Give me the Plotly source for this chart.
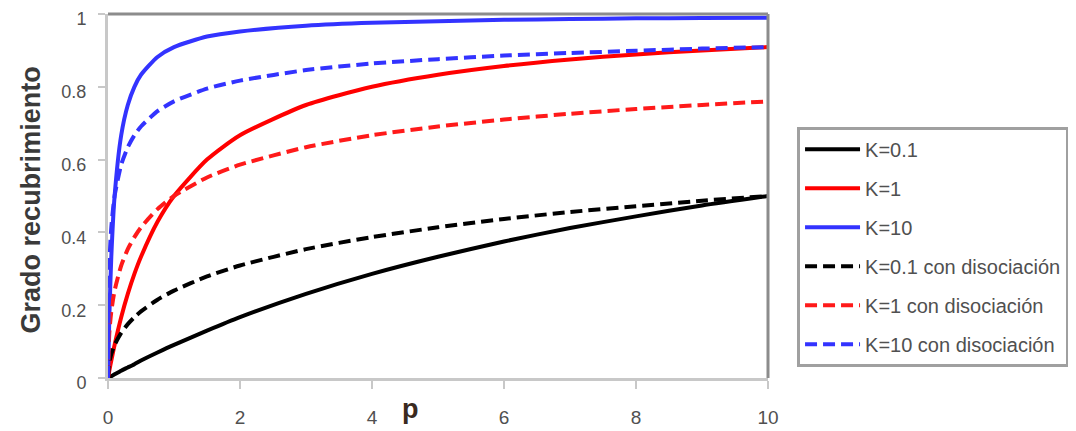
import plotly.graph_objects as go

# pressure values (x)
p = [0, 0.02, 0.05, 0.1, 0.2, 0.3, 0.4, 0.5, 0.75, 1, 1.5, 2, 3, 4, 5, 6, 7, 8, 9, 10]

# coverage values
k01 = [0, 0.002, 0.005, 0.010, 0.020, 0.029, 0.038, 0.048, 0.070, 0.091, 0.130, 0.167,
       0.231, 0.286, 0.333, 0.375, 0.412, 0.444, 0.474, 0.500]
k1 = [0, 0.020, 0.048, 0.091, 0.167, 0.231, 0.286, 0.333, 0.429, 0.500, 0.600, 0.667,
      0.750, 0.800, 0.833, 0.857, 0.875, 0.889, 0.900, 0.909]
k10 = [0, 0.167, 0.333, 0.500, 0.667, 0.750, 0.800, 0.833, 0.882, 0.909, 0.938, 0.952,
       0.968, 0.976, 0.980, 0.984, 0.986, 0.988, 0.989, 0.990]
k01_d = [0, 0.043, 0.066, 0.091, 0.124, 0.148, 0.167, 0.183, 0.215, 0.240, 0.279, 0.309,
         0.354, 0.387, 0.414, 0.437, 0.456, 0.472, 0.487, 0.500]
k1_d = [0, 0.124, 0.183, 0.240, 0.309, 0.354, 0.387, 0.414, 0.464, 0.500, 0.551, 0.586,
        0.634, 0.667, 0.691, 0.710, 0.726, 0.739, 0.750, 0.760]
k10_d = [0, 0.309, 0.414, 0.500, 0.586, 0.634, 0.667, 0.691, 0.733, 0.760, 0.795, 0.817,
         0.846, 0.864, 0.876, 0.886, 0.893, 0.899, 0.905, 0.909]

series = [
    ("K=0.1", k01, "#000000", "solid"),
    ("K=1", k1, "#ff0000", "solid"),
    ("K=10", k10, "#3333ff", "solid"),
    ("K=0.1 con disociación", k01_d, "#000000", "12px,6px"),
    ("K=1 con disociación", k1_d, "#ff1a1a", "12px,6px"),
    ("K=10 con disociación", k10_d, "#3333ff", "12px,6px"),
]

x_ticks = [0, 2, 4, 6, 8, 10]
y_ticks = [0, 0.2, 0.4, 0.6, 0.8, 1]
y_ticklabels = ["0", "0.2", "0.4", "0.6", "0.8", "1"]

fig = go.Figure()
for i, (name, vals, col, dash) in enumerate(series):
    fig.add_trace(go.Scatter(
        x=p, y=vals, mode="lines", name=name, legendgroup=f"g{i}",
        line=dict(color=col, width=4, dash=dash, shape="spline", smoothing=0.6),
    ))

font_fam = "Liberation Sans, Arial, sans-serif"
# page body adds an 8px offset, so the figure is sized to fit the window
fig.update_layout(
    width=1068, height=423,
    margin=dict(l=100, r=308, t=6, b=53, autoexpand=False),
    paper_bgcolor="white", plot_bgcolor="white",
    font=dict(family=font_fam, color="#404040"),
    xaxis=dict(
        range=[0, 10], tickvals=x_ticks, ticktext=[str(v) for v in x_ticks],
        showgrid=False, zeroline=False, showline=True, linecolor="#c8c8c8", linewidth=3,
        ticks="outside", ticklen=8, tickwidth=2, tickcolor="#c8c8c8",
        tickfont=dict(size=19, color="#505050"), ticklabelstandoff=12,
        ticklabeloverflow="allow",
    ),
    yaxis=dict(
        range=[0, 1], tickvals=y_ticks, ticktext=y_ticklabels,
        showgrid=False, zeroline=False, showline=True, linecolor="#c8c8c8", linewidth=3,
        ticks="outside", ticklen=7, tickwidth=2, tickcolor="#c8c8c8",
        tickfont=dict(size=18, color="#505050"), ticklabelstandoff=8,
        ticklabelshift=5, ticklabeloverflow="allow",
    ),
    legend=dict(
        x=1.044, y=0.69, xanchor="left", yanchor="top",
        bordercolor="#a0a0a0", borderwidth=3, bgcolor="white",
        font=dict(size=20, color="#505050", family=font_fam),
        itemwidth=55, tracegroupgap=10,
    ),
    showlegend=True,
)

# dark frame on top and right
fig.add_shape(type="line", xref="paper", yref="paper", x0=0, x1=1, y0=1, y1=1,
              line=dict(color="#8c8c8c", width=3))
fig.add_shape(type="line", xref="paper", yref="paper", x0=1, x1=1, y0=0, y1=1,
              line=dict(color="#8c8c8c", width=3))

fig.add_annotation(text="<b>Grado recubrimiento</b>", textangle=-90,
                   xref="paper", yref="paper", x=-0.117, y=0.49, xanchor="center",
                   yanchor="middle", showarrow=False,
                   font=dict(size=27, color="#3a3a3a", family=font_fam))
fig.add_annotation(text="<b>p</b>", xref="x", yref="paper", x=4.58, y=0,
                   yshift=-48, showarrow=False,
                   font=dict(size=27, color="#3a2a20", family=font_fam))

fig.write_html("out.html")
